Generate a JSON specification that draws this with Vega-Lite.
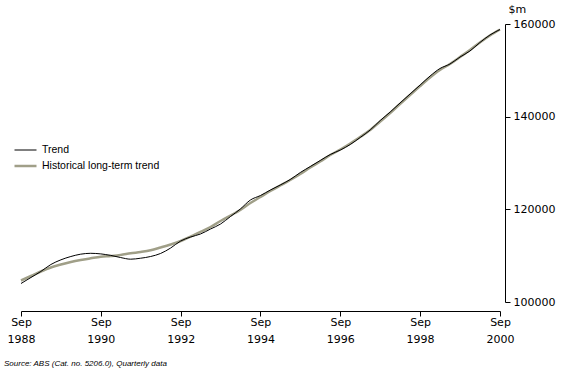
{
  "$schema": "https://vega.github.io/schema/vega-lite/v6.json",
  "width": 479,
  "height": 278,
  "autosize": {"type": "none"},
  "padding": {"left": 21, "top": 24, "right": 67, "bottom": 76},
  "background": "white",
  "config": {"view": {"stroke": null}},
  "title": {
    "text": "Source: ABS (Cat. no. 5206.0), Quarterly data",
    "orient": "bottom",
    "anchor": "start",
    "frame": "group",
    "dx": -17,
    "offset": 16,
    "font": "Liberation Sans",
    "fontStyle": "italic",
    "fontWeight": "normal",
    "fontSize": 8,
    "color": "black"
  },
  "data": {
    "values": [
      {"d": "1988-09-01", "Trend": 103990, "Historical long-term trend": 104640},
      {"d": "1988-12-01", "Trend": 105290, "Historical long-term trend": 105610},
      {"d": "1989-03-01", "Trend": 106580, "Historical long-term trend": 106580},
      {"d": "1989-06-01", "Trend": 108090, "Historical long-term trend": 107450},
      {"d": "1989-09-01", "Trend": 109100, "Historical long-term trend": 108090},
      {"d": "1989-12-01", "Trend": 109820, "Historical long-term trend": 108630},
      {"d": "1990-03-01", "Trend": 110320, "Historical long-term trend": 109060},
      {"d": "1990-06-01", "Trend": 110510, "Historical long-term trend": 109430},
      {"d": "1990-09-01", "Trend": 110380, "Historical long-term trend": 109780},
      {"d": "1990-12-01", "Trend": 110060, "Historical long-term trend": 109930},
      {"d": "1991-03-01", "Trend": 109600, "Historical long-term trend": 110140},
      {"d": "1991-06-01", "Trend": 109240, "Historical long-term trend": 110510},
      {"d": "1991-09-01", "Trend": 109450, "Historical long-term trend": 110790},
      {"d": "1991-12-01", "Trend": 109820, "Historical long-term trend": 111160},
      {"d": "1992-03-01", "Trend": 110470, "Historical long-term trend": 111760},
      {"d": "1992-06-01", "Trend": 111650, "Historical long-term trend": 112410},
      {"d": "1992-09-01", "Trend": 113160, "Historical long-term trend": 113160},
      {"d": "1992-12-01", "Trend": 114030, "Historical long-term trend": 114130},
      {"d": "1993-03-01", "Trend": 114670, "Historical long-term trend": 115110},
      {"d": "1993-06-01", "Trend": 115750, "Historical long-term trend": 116190},
      {"d": "1993-09-01", "Trend": 116830, "Historical long-term trend": 117480},
      {"d": "1993-12-01", "Trend": 118450, "Historical long-term trend": 118670},
      {"d": "1994-03-01", "Trend": 120070, "Historical long-term trend": 119850},
      {"d": "1994-06-01", "Trend": 122010, "Historical long-term trend": 121360},
      {"d": "1994-09-01", "Trend": 122980, "Historical long-term trend": 122660},
      {"d": "1994-12-01", "Trend": 124170, "Historical long-term trend": 123950},
      {"d": "1995-03-01", "Trend": 125250, "Historical long-term trend": 125140},
      {"d": "1995-06-01", "Trend": 126440, "Historical long-term trend": 126330},
      {"d": "1995-09-01", "Trend": 127950, "Historical long-term trend": 127620},
      {"d": "1995-12-01", "Trend": 129240, "Historical long-term trend": 129030},
      {"d": "1996-03-01", "Trend": 130540, "Historical long-term trend": 130320},
      {"d": "1996-06-01", "Trend": 131830, "Historical long-term trend": 131720},
      {"d": "1996-09-01", "Trend": 132800, "Historical long-term trend": 132910},
      {"d": "1996-12-01", "Trend": 133990, "Historical long-term trend": 134200},
      {"d": "1997-03-01", "Trend": 135500, "Historical long-term trend": 135610},
      {"d": "1997-06-01", "Trend": 137120, "Historical long-term trend": 137120},
      {"d": "1997-09-01", "Trend": 139170, "Historical long-term trend": 138960},
      {"d": "1997-12-01", "Trend": 141000, "Historical long-term trend": 140790},
      {"d": "1998-03-01", "Trend": 142940, "Historical long-term trend": 142730},
      {"d": "1998-06-01", "Trend": 144890, "Historical long-term trend": 144670},
      {"d": "1998-09-01", "Trend": 146830, "Historical long-term trend": 146610},
      {"d": "1998-12-01", "Trend": 148770, "Historical long-term trend": 148450},
      {"d": "1999-03-01", "Trend": 150390, "Historical long-term trend": 150070},
      {"d": "1999-06-01", "Trend": 151360, "Historical long-term trend": 151360},
      {"d": "1999-09-01", "Trend": 152870, "Historical long-term trend": 152870},
      {"d": "1999-12-01", "Trend": 154170, "Historical long-term trend": 154380},
      {"d": "2000-03-01", "Trend": 156000, "Historical long-term trend": 156000},
      {"d": "2000-06-01", "Trend": 157620, "Historical long-term trend": 157510},
      {"d": "2000-09-01", "Trend": 158810, "Historical long-term trend": 158810}
    ]
  },
  "transform": [
    {"fold": ["Historical long-term trend", "Trend"], "as": ["series", "v"]}
  ],
  "mark": {"type": "line", "interpolate": "monotone"},
  "encoding": {
    "x": {
      "field": "d",
      "type": "temporal",
      "scale": {
        "type": "utc",
        "domain": [
          {"year": 1988, "month": 9, "date": 1, "utc": true},
          {"year": 2000, "month": 9, "date": 1, "utc": true}
        ]
      },
      "axis": {
        "orient": "bottom",
        "offset": 9,
        "title": null,
        "grid": false,
        "values": [
          {"year": 1988, "month": 9, "date": 1, "utc": true},
          {"year": 1990, "month": 9, "date": 1, "utc": true},
          {"year": 1992, "month": 9, "date": 1, "utc": true},
          {"year": 1994, "month": 9, "date": 1, "utc": true},
          {"year": 1996, "month": 9, "date": 1, "utc": true},
          {"year": 1998, "month": 9, "date": 1, "utc": true},
          {"year": 2000, "month": 9, "date": 1, "utc": true}
        ],
        "labelExpr": "[utcFormat(datum.value, '%b'), utcFormat(datum.value, '%Y')]",
        "labelFont": "DejaVu Sans",
        "labelFontSize": 11,
        "labelColor": "black",
        "labelLineHeight": 17,
        "labelPadding": 0,
        "labelFlush": false,
        "labelOverlap": false,
        "domainColor": "black",
        "tickColor": "black",
        "tickSize": 5
      }
    },
    "y": {
      "field": "v",
      "type": "quantitative",
      "scale": {"domain": [100000, 160000], "nice": false, "zero": false},
      "axis": {
        "orient": "right",
        "offset": 5,
        "grid": false,
        "values": [100000, 120000, 140000, 160000],
        "format": "d",
        "labelFont": "DejaVu Sans",
        "labelFontSize": 11,
        "labelColor": "black",
        "labelPadding": 3,
        "domainColor": "black",
        "tickColor": "black",
        "tickSize": 5,
        "title": "$m",
        "titleAngle": 0,
        "titleX": 3,
        "titleY": -12,
        "titleAlign": "left",
        "titleBaseline": "alphabetic",
        "titleFont": "DejaVu Sans",
        "titleFontSize": 11,
        "titleFontWeight": "normal",
        "titleColor": "black"
      }
    },
    "color": {
      "field": "series",
      "type": "nominal",
      "scale": {"domain": ["Trend", "Historical long-term trend"], "range": ["#000000", "#a09f88"]},
      "legend": {
        "title": null,
        "orient": "none",
        "legendX": -2.5,
        "legendY": 120,
        "padding": 0,
        "symbolType": "M-2,0H2",
        "symbolSize": 121,
        "labelOffset": 9.5,
        "labelFont": "Liberation Sans",
        "labelFontSize": 10.5,
        "labelColor": "black",
        "rowPadding": 3
      }
    },
    "strokeWidth": {
      "field": "series",
      "type": "nominal",
      "scale": {"domain": ["Trend", "Historical long-term trend"], "range": [1, 2.5]},
      "legend": {
        "title": null,
        "orient": "none",
        "legendX": -2.5,
        "legendY": 120,
        "padding": 0,
        "symbolType": "M-2,0H2",
        "symbolSize": 121,
        "labelOffset": 9.5,
        "labelFont": "Liberation Sans",
        "labelFontSize": 10.5,
        "labelColor": "black",
        "rowPadding": 3
      }
    }
  }
}
